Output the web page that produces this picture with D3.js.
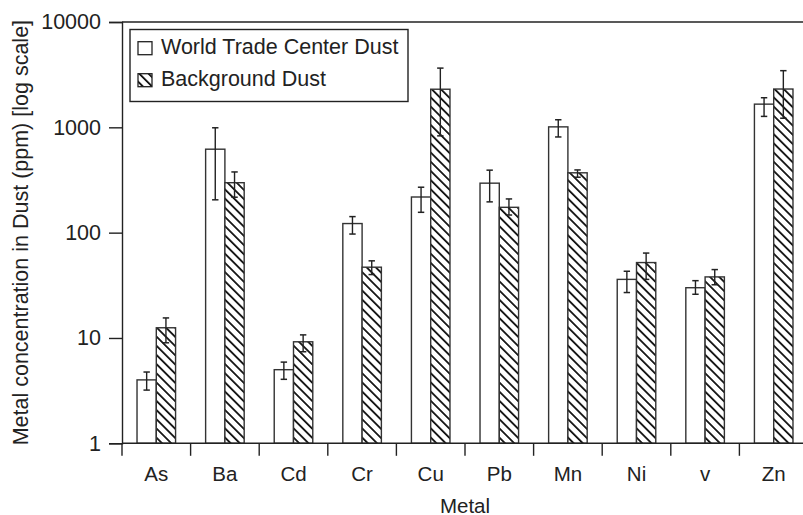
<!DOCTYPE html>
<html>
<head>
<meta charset="utf-8">
<script src="https://cdn.jsdelivr.net/npm/d3@7"></script>
<style>
  html, body { margin: 0; padding: 0; background: #fff; }
  svg { display: block; font-family: "Liberation Sans", Arial, Helvetica, sans-serif; }
</style>
</head>
<body>
<svg id="chart" width="803" height="515"></svg>
<script>
// Metal concentrations (ppm) in dust, with error bar ends
const metals = ["As", "Ba", "Cd", "Cr", "Cu", "Pb", "Mn", "Ni", "v", "Zn"];
const wtcMean = [4.0, 620, 5.0, 122, 218, 295, 1010, 36, 30, 1660];
const wtcLow  = [3.2, 205, 4.05, 97, 156, 196, 810, 27, 26, 1270];
const wtcHigh = [4.75, 990, 5.9, 142, 270, 392, 1180, 43, 35, 1910];
const bgMean  = [12.5, 298, 9.2, 47, 2300, 174, 370, 52, 38, 2310];
const bgLow   = [9.0, 217, 7.4, 40, 830, 147, 336, 36, 32, 1220];
const bgHigh  = [15.5, 377, 10.7, 54, 3650, 209, 394, 64, 44.6, 3450];
const seriesNames = ["World Trade Center Dust", "Background Dust"];
const yTickValues = [1, 10, 100, 1000, 10000];

const svg = d3.select("#chart");
const W = 803, H = 515;
const mLeft = 122, mTop = 22, mBottom = 443.3, mRight = 808;
const ink = "#222";

// Diagonal hatch fill
const defs = svg.append("defs");
const pat = defs.append("pattern")
  .attr("id", "hatch").attr("patternUnits", "userSpaceOnUse")
  .attr("width", 6.5).attr("height", 6.5)
  .attr("patternTransform", "rotate(-45)");
pat.append("rect").attr("width", 6.5).attr("height", 6.5).attr("fill", "#fff");
pat.append("line").attr("x1", 0).attr("y1", 0).attr("x2", 0).attr("y2", 6.5)
  .attr("stroke", "#111").attr("stroke-width", 3.6);

const x = d3.scaleBand().domain(metals).range([mLeft, mRight]).padding(0);
const inner = d3.scaleBand().domain([0, 1])
  .range([x.bandwidth() * 0.219, x.bandwidth() * 0.781]).padding(0);
const y = d3.scaleLog().domain([1, 10000]).range([mBottom, mTop]);

const rows = metals.map((m, i) => ({
  metal: m,
  vals: [
    { s: 0, v: wtcMean[i], lo: wtcLow[i], hi: wtcHigh[i] },
    { s: 1, v: bgMean[i], lo: bgLow[i], hi: bgHigh[i] }
  ]
}));

// Bars
const g = svg.append("g");
const groups = g.selectAll("g.grp").data(rows).join("g")
  .attr("class", "grp")
  .attr("transform", d => `translate(${x(d.metal)},0)`);

groups.selectAll("rect").data(d => d.vals).join("rect")
  .attr("x", d => inner(d.s))
  .attr("y", d => y(d.v))
  .attr("width", inner.bandwidth())
  .attr("height", d => y(1) - y(d.v))
  .attr("fill", d => d.s === 0 ? "#fff" : "url(#hatch)")
  .attr("stroke", "#333").attr("stroke-width", 1.4);

// Error bars
const eb = groups.selectAll("g.err").data(d => d.vals).join("g").attr("class", "err");
eb.append("line")
  .attr("x1", d => inner(d.s) + inner.bandwidth() / 2)
  .attr("x2", d => inner(d.s) + inner.bandwidth() / 2)
  .attr("y1", d => y(d.lo)).attr("y2", d => y(d.hi))
  .attr("stroke", ink).attr("stroke-width", 1.4);
["lo", "hi"].forEach(k => {
  eb.append("line")
    .attr("x1", d => inner(d.s) + inner.bandwidth() / 2 - 3.2)
    .attr("x2", d => inner(d.s) + inner.bandwidth() / 2 + 3.2)
    .attr("y1", d => y(d[k])).attr("y2", d => y(d[k]))
    .attr("stroke", ink).attr("stroke-width", 1.5);
});

// Frame: top line, left axis, bottom axis
svg.append("line").attr("x1", mLeft).attr("x2", W).attr("y1", mTop).attr("y2", mTop)
  .attr("stroke", ink).attr("stroke-width", 1.4);

const yAxis = svg.append("g").attr("transform", `translate(${mLeft},0)`)
  .call(d3.axisLeft(y).tickValues(yTickValues).tickFormat(d3.format("d")).tickSize(13).tickPadding(8));
yAxis.select(".domain").attr("stroke", ink).attr("stroke-width", 1.4);
yAxis.selectAll(".tick line").attr("stroke", ink).attr("stroke-width", 1.4);
yAxis.selectAll(".tick text").attr("fill", ink).style("font-size", "21.5px")
  .style("font-family", "'Liberation Sans', Arial, sans-serif");

// Bottom axis: category labels centred, ticks on the band edges
const xAxis = svg.append("g").attr("transform", `translate(0,${mBottom})`)
  .call(d3.axisBottom(x).tickSize(0).tickPadding(23));
xAxis.select(".domain").remove();
xAxis.selectAll(".tick text").attr("fill", ink).style("font-size", "20.5px")
  .style("font-family", "'Liberation Sans', Arial, sans-serif");
svg.append("line").attr("x1", mLeft).attr("x2", W).attr("y1", mBottom).attr("y2", mBottom)
  .attr("stroke", ink).attr("stroke-width", 1.4);
svg.append("g").selectAll("line").data(metals).join("line")
  .attr("x1", d => x(d)).attr("x2", d => x(d))
  .attr("y1", mBottom).attr("y2", mBottom + 12.5)
  .attr("stroke", ink).attr("stroke-width", 1.4);

// Axis titles
svg.append("text")
  .attr("x", (mLeft + mRight) / 2).attr("y", 512.5)
  .attr("text-anchor", "middle").attr("fill", ink).style("font-size", "20.5px")
  .text("Metal");
svg.append("text")
  .attr("transform", `translate(27.5,${(mTop + mBottom) / 2}) rotate(-90)`)
  .attr("text-anchor", "middle").attr("fill", ink).style("font-size", "21.5px")
  .text("Metal concentration in Dust (ppm) [log scale]");

// Legend
const lg = svg.append("g");
lg.append("rect").attr("x", 130).attr("y", 29.5).attr("width", 278).attr("height", 72)
  .attr("fill", "#fff").attr("stroke", ink).attr("stroke-width", 1.4);
seriesNames.forEach((name, i) => {
  const yy = 41.7 + i * 32;
  lg.append("rect").attr("x", 138).attr("y", yy).attr("width", 14).attr("height", 13)
    .attr("fill", i === 0 ? "#fff" : "url(#hatch)")
    .attr("stroke", ink).attr("stroke-width", 1.3);
  lg.append("text").attr("x", 161).attr("y", yy + 12)
    .attr("fill", ink).style("font-size", "21.5px").text(name);
});
</script>
</body>
</html>
